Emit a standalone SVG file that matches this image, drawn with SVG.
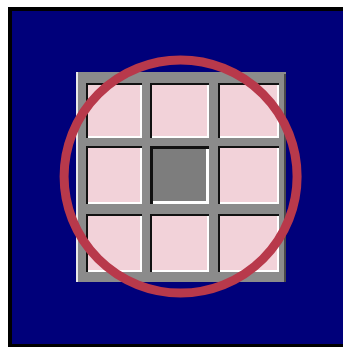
<svg xmlns="http://www.w3.org/2000/svg" width="343" height="347" viewBox="0 0 343 347">
<style>
.cell{fill:#f2d2d9}
.dark{fill:#7d7d7d}
.sh{fill:#111}
.hl{fill:#fff}
</style>
<rect x="0" y="0" width="343" height="347" fill="#fff"/>
<g id="background">
<rect x="8" y="7" width="340" height="345" fill="#000"/>
<rect x="12" y="11" width="336" height="333" fill="#00007a"/>
</g>
<g id="grid">
<rect x="76" y="72" width="210" height="210" fill="#8b8b8b"/>
<rect x="76" y="72" width="2" height="210" fill="#e8e8e8"/>
<rect x="284" y="74" width="2" height="208" fill="#4a4a4a"/>
</g>
<g id="cell-r1c1"><rect x="86" y="83" width="56" height="55" class="sh"/><rect x="88" y="85" width="54" height="53" class="hl"/><rect x="88" y="85" width="52" height="51" class="cell"/></g>
<g id="cell-r1c2"><rect x="150" y="83" width="59" height="55" class="sh"/><rect x="152" y="85" width="57" height="53" class="hl"/><rect x="152" y="85" width="55" height="51" class="cell"/></g>
<g id="cell-r1c3"><rect x="218" y="83" width="61" height="55" class="sh"/><rect x="220" y="85" width="59" height="53" class="hl"/><rect x="220" y="85" width="57" height="51" class="cell"/></g>
<g id="cell-r2c1"><rect x="86" y="146" width="56" height="58" class="sh"/><rect x="88" y="148" width="54" height="56" class="hl"/><rect x="88" y="148" width="52" height="54" class="cell"/></g>
<g id="cell-r2c2"><rect x="150" y="146" width="59" height="58" class="sh"/><rect x="153" y="149" width="56" height="55" class="hl"/><rect x="153" y="149" width="53" height="52" class="dark"/></g>
<g id="cell-r2c3"><rect x="218" y="146" width="61" height="58" class="sh"/><rect x="220" y="148" width="59" height="56" class="hl"/><rect x="220" y="148" width="57" height="54" class="cell"/></g>
<g id="cell-r3c1"><rect x="86" y="214" width="56" height="58" class="sh"/><rect x="88" y="216" width="54" height="56" class="hl"/><rect x="88" y="216" width="52" height="54" class="cell"/></g>
<g id="cell-r3c2"><rect x="150" y="214" width="59" height="58" class="sh"/><rect x="152" y="216" width="57" height="56" class="hl"/><rect x="152" y="216" width="55" height="54" class="cell"/></g>
<g id="cell-r3c3"><rect x="218" y="214" width="61" height="58" class="sh"/><rect x="220" y="216" width="59" height="56" class="hl"/><rect x="220" y="216" width="57" height="54" class="cell"/></g>
<g id="ring">
<circle cx="180.6" cy="176.5" r="116.5" fill="none" stroke="#b8394b" stroke-width="9"/>
</g>
</svg>
